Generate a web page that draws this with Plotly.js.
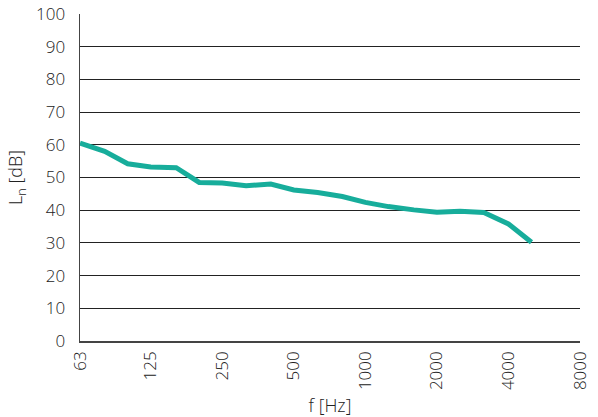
<!DOCTYPE html>
<html>
<head>
<meta charset="utf-8">
<script src="https://cdn.plot.ly/plotly-3.0.1.min.js"></script>
<style>html,body{margin:0;padding:0;background:#fff;}#chart{width:598px;height:417px;}</style>
</head>
<body>
<div id="chart"></div>
<script>
const freqs = [63, 80, 100, 125, 160, 200, 250, 315, 400, 500, 630, 800, 1000, 1250, 1600, 2000, 2500, 3150, 4000, 5000];
const levels = [60.5, 58.0, 54.2, 53.2, 53.0, 48.5, 48.3, 47.5, 48.0, 46.2, 45.4, 44.2, 42.4, 41.1, 40.1, 39.4, 39.7, 39.3, 35.8, 30.2];
const tickVals = [63, 125, 250, 500, 1000, 2000, 4000, 8000];
const tickText = ["63", "125", "250", "500", "1000", "2000", "4000", "8000"];
const yTicks = [0, 10, 20, 30, 40, 50, 60, 70, 80, 90, 100];

const font = {family: "'Open Sans', sans-serif", size: 17, color: "#222", weight: 300};
const tfont = {family: "'Open Sans', sans-serif", size: 18, color: "#222", weight: 300};

Plotly.newPlot("chart", [{
  x: freqs, y: levels, type: "scatter", mode: "lines",
  line: {color: "#17ad9b", width: 5},
  hoverinfo: "skip"
}], {
  width: 598, height: 417,
  margin: {l: 80, r: 18, t: 14, b: 76},
  paper_bgcolor: "#fff", plot_bgcolor: "#fff",
  showlegend: false,
  font: font,
  xaxis: {
    type: "log",
    range: [Math.log10(63), Math.log10(8000)],
    tickvals: tickVals, ticktext: tickText,
    tickangle: -90,
    showgrid: false, zeroline: false,
    showline: true, linecolor: "#444", linewidth: 1.5,
    ticks: "", ticklen: 0,
    ticklabelstandoff: 2,
    tickfont: font,
    title: {text: "f [Hz]", font: tfont, standoff: 10}
  },
  yaxis: {
    range: [0, 100],
    tickvals: yTicks,
    showgrid: true, gridcolor: "#222", gridwidth: 1,
    zeroline: false,
    showline: true, linecolor: "#444", linewidth: 1.5,
    ticks: "", ticklen: 0,
    ticklabelstandoff: 10,
    tickfont: font,
    title: {text: "L<sub>n</sub> [dB]", font: tfont, standoff: 8}
  }
}, {displayModeBar: false, staticPlot: true});
</script>
</body>
</html>
